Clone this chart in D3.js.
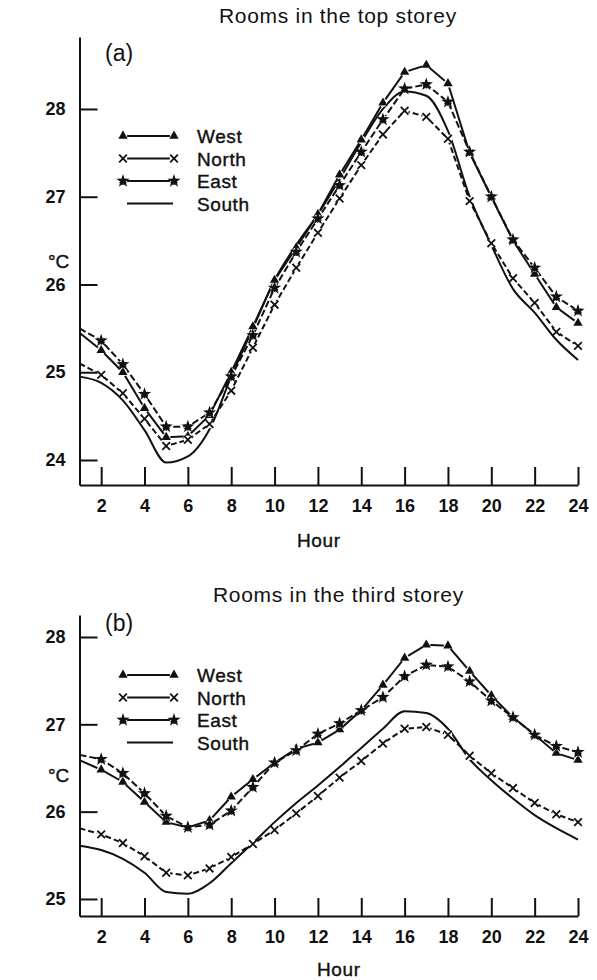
<!DOCTYPE html>
<html>
<head>
<meta charset="utf-8">
<script src="https://cdn.jsdelivr.net/npm/d3@7"></script>
<style>
  body { margin: 0; background: #fff; }
  svg text { font-family: "Liberation Sans", Arial, sans-serif; fill: #111; }
</style>
</head>
<body>
<svg id="chart" width="597" height="980"></svg>
<script>
// hours of the day
const hours = [1, 2, 3, 4, 5, 6, 7, 8, 9, 10, 11, 12, 13, 14, 15, 16, 17, 18, 19, 20, 21, 22, 23, 24];
const xTickValues = [2, 4, 6, 8, 10, 12, 14, 16, 18, 20, 22, 24];
const seriesNames = ["West", "North", "East", "South"];

// (a) rooms in the top storey, deg C
const topYTicks = [24, 25, 26, 27, 28];
const topWest  = [25.45, 25.25, 25.00, 24.59, 24.26, 24.27, 24.51, 25.00, 25.52, 26.05, 26.42, 26.80, 27.25, 27.65, 28.07, 28.42, 28.50, 28.29, 27.50, 27.00, 26.50, 26.12, 25.74, 25.56];
const topNorth = [25.10, 24.97, 24.76, 24.47, 24.16, 24.23, 24.41, 24.79, 25.28, 25.77, 26.19, 26.59, 26.98, 27.36, 27.71, 27.98, 27.91, 27.66, 26.95, 26.47, 26.07, 25.79, 25.46, 25.30];
const topEast  = [25.50, 25.36, 25.09, 24.75, 24.38, 24.38, 24.54, 24.95, 25.42, 25.96, 26.37, 26.75, 27.13, 27.51, 27.88, 28.23, 28.28, 28.08, 27.51, 27.00, 26.51, 26.19, 25.86, 25.70];
const topSouth = [24.95, 24.88, 24.68, 24.34, 23.97, 24.04, 24.35, 24.95, 25.50, 26.05, 26.45, 26.80, 27.20, 27.62, 28.00, 28.20, 28.15, 27.75, 27.00, 26.45, 25.95, 25.68, 25.37, 25.14];

// (b) rooms in the third storey, deg C
const thirdYTicks = [25, 26, 27, 28];
const thirdWest  = [26.59, 26.48, 26.34, 26.11, 25.88, 25.82, 25.90, 26.17, 26.37, 26.56, 26.72, 26.79, 26.94, 27.16, 27.45, 27.76, 27.91, 27.90, 27.61, 27.33, 27.08, 26.88, 26.67, 26.59];
const thirdNorth = [25.81, 25.74, 25.64, 25.49, 25.30, 25.27, 25.35, 25.48, 25.63, 25.79, 25.98, 26.18, 26.39, 26.58, 26.78, 26.95, 26.97, 26.88, 26.64, 26.44, 26.27, 26.10, 25.97, 25.88];
const thirdEast  = [26.65, 26.60, 26.44, 26.21, 25.95, 25.82, 25.85, 26.01, 26.28, 26.56, 26.70, 26.89, 27.01, 27.16, 27.31, 27.55, 27.68, 27.66, 27.49, 27.27, 27.08, 26.88, 26.75, 26.68];
const thirdSouth = [25.61, 25.56, 25.46, 25.30, 25.08, 25.06, 25.18, 25.41, 25.64, 25.88, 26.10, 26.30, 26.51, 26.73, 26.95, 27.15, 27.13, 26.95, 26.60, 26.36, 26.15, 25.96, 25.81, 25.68];

const svg = d3.select("#chart");
const ink = "#111";

const x = d3.scaleLinear().domain([1, 24]).range([79.5, 578]);

// style per series
const styles = {
  West:  { dash: null,  marker: "tri" },
  North: { dash: "6,3", marker: "x" },
  East:  { dash: "7,3", marker: "star" },
  South: { dash: null,  marker: null }
};

function drawMarker(g, kind, cx, cy) {
  if (!kind) return;
  g.append("circle").attr("cx", cx).attr("cy", cy).attr("r", 4.2).attr("fill", "#fff");
  if (kind === "tri") {
    g.append("path").attr("d", d3.symbol(d3.symbolTriangle, 38)())
      .attr("transform", `translate(${cx},${cy})`).attr("fill", ink);
  } else if (kind === "x") {
    g.append("path").attr("d", d3.symbol(d3.symbolTimes, 40)())
      .attr("transform", `translate(${cx},${cy})`)
      .attr("fill", "none").attr("stroke", ink).attr("stroke-width", 1.8);
  } else {
    g.append("path").attr("d", d3.symbol(d3.symbolStar, 55)())
      .attr("transform", `translate(${cx},${cy})`).attr("fill", ink);
    g.append("path").attr("d", d3.symbol(d3.symbolAsterisk, 45)())
      .attr("transform", `translate(${cx},${cy})`)
      .attr("fill", "none").attr("stroke", ink).attr("stroke-width", 1.4);
  }
}

function panel(opts) {
  const y = d3.scaleLinear().domain(opts.yDomain).range(opts.yRange);
  const g = svg.append("g");

  // axes
  const xAxis = g.append("g")
    .attr("transform", `translate(0,${opts.yRange[0]})`)
    .call(d3.axisBottom(x).tickValues(xTickValues).tickSizeInner(-18).tickSizeOuter(0).tickPadding(14));
  xAxis.selectAll("text").style("font-size", "18px").style("font-weight", "bold");

  const yAxis = g.append("g")
    .attr("transform", `translate(${x(1)},0)`)
    .call(d3.axisLeft(y).tickValues(opts.yTicks).tickFormat(d3.format("d"))
      .tickSizeInner(-18).tickSizeOuter(0).tickPadding(14));
  yAxis.selectAll("text").style("font-size", "18px").style("font-weight", "bold");

  g.selectAll(".domain, .tick line").attr("stroke", ink).attr("stroke-width", 2);

  // series
  const line = d3.line().x((d, i) => x(hours[i])).y(d => y(d));
  seriesNames.forEach(name => {
    const vals = opts.series[name];
    const st = styles[name];
    g.append("path").datum(vals)
      .attr("d", name === "South" ? line.curve(d3.curveMonotoneX)(vals) : line.curve(d3.curveLinear)(vals))
      .attr("fill", "none").attr("stroke", ink).attr("stroke-width", 2)
      .attr("stroke-dasharray", st.dash);
  });
  seriesNames.forEach(name => {
    const st = styles[name];
    opts.series[name].forEach((v, i) => {
      if (hours[i] === 1) return;
      drawMarker(g, st.marker, x(hours[i]), y(v));
    });
  });

  // legend
  seriesNames.forEach((name, i) => {
    const ly = opts.legendY + i * 22.5;
    const st = styles[name];
    if (st.marker) {
      g.append("line").attr("x1", 122).attr("x2", 175).attr("y1", ly).attr("y2", ly)
        .attr("stroke", ink).attr("stroke-width", 2);
      drawMarker(g, st.marker, 123, ly);
      drawMarker(g, st.marker, 174, ly);
    } else {
      g.append("line").attr("x1", 127).attr("x2", 173).attr("y1", ly).attr("y2", ly)
        .attr("stroke", ink).attr("stroke-width", 2);
    }
    g.append("text").attr("x", 197).attr("y", ly + 7).style("font-size", "19px")
      .style("letter-spacing", "0.6px").style("stroke", ink).style("stroke-width", 0.4).text(name);
  });

  // texts
  g.append("text").attr("x", opts.titleX).attr("y", opts.titleY).style("font-size", "21px")
    .style("letter-spacing", "0.7px").text(opts.title);
  g.append("text").attr("x", 105).attr("y", opts.tagY).style("font-size", "23px").text(opts.tag);
  g.append("text").attr("x", 48).attr("y", opts.unitY).style("font-size", "19px")
    .style("stroke", ink).style("stroke-width", 0.4).text("°C");
  g.append("text").attr("x", opts.hourX).attr("y", opts.hourY).style("font-size", "19px")
    .style("letter-spacing", "0.6px").style("stroke", ink).style("stroke-width", 0.4).text("Hour");
}

panel({
  title: "Rooms in the top storey", titleX: 219, titleY: 23,
  tag: "(a)", tagY: 61,
  yDomain: [23.715, 28.82], yRange: [485, 37], yTicks: topYTicks,
  series: { West: topWest, North: topNorth, East: topEast, South: topSouth },
  legendY: 136, unitY: 268, hourX: 297, hourY: 547
});

panel({
  title: "Rooms in the third storey", titleX: 213, titleY: 602,
  tag: "(b)", tagY: 631,
  yDomain: [24.805, 28.252], yRange: [916, 615], yTicks: thirdYTicks,
  series: { West: thirdWest, North: thirdNorth, East: thirdEast, South: thirdSouth },
  legendY: 675, unitY: 782, hourX: 317, hourY: 976
});
</script>
</body>
</html>
